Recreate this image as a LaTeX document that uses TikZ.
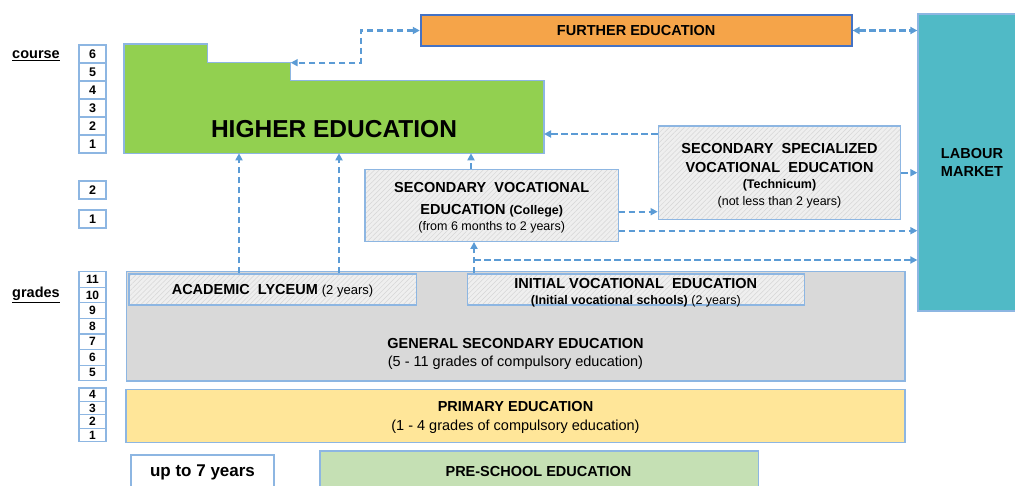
\documentclass[tikz,border=0pt]{standalone}
\usepackage{fontspec}
\setmainfont{Liberation Sans}
\usetikzlibrary{arrows.meta,patterns.meta}

\definecolor{edge}{HTML}{8DB6E2}
\definecolor{flow}{HTML}{5B9BD5}
\definecolor{higher}{HTML}{92D050}
\definecolor{further}{HTML}{F5A449}
\definecolor{furtheredge}{HTML}{4472C4}
\definecolor{labour}{HTML}{50BAC6}
\definecolor{general}{HTML}{D9D9D9}
\definecolor{primary}{HTML}{FFE699}
\definecolor{preschool}{HTML}{C5E0B4}
\definecolor{hatchbg}{HTML}{EFEFEF}
\definecolor{hatchln}{HTML}{D6D6D6}

% font size with an explicit line distance
\newcommand\fsz[2]{\fontsize{#1}{#2}\selectfont}

\tikzset{
  box/.style={draw=edge, line width=1.3pt, inner sep=0pt, align=center},
  hatched/.style={box, preaction={fill=hatchbg},
    pattern={Lines[angle=45,distance=3.5pt,line width=0.5pt]}, pattern color=hatchln},
  caption/.style={align=center, inner sep=0pt},
  flowline/.style={draw=flow, line width=2.2pt, dash pattern=on 6.5pt off 3.5pt},
  tip/.style={-{Triangle[length=7pt,width=7pt]}},
  twotips/.style={{Triangle[length=7pt,width=7pt]}-{Triangle[length=7pt,width=7pt]}},
  yearbox/.style={draw=edge, line width=1.2pt, minimum width=27pt, inner sep=0pt},
  side/.style={font=\bfseries\fsz{14.5}{17}},
}

\begin{document}
\begin{tikzpicture}[x=1pt,y=-1pt]
\useasboundingbox (0,0) rectangle (1015,485);

% side labels
\node[side] (course) at (36,56) {\underline{course}};
\node[side] (grades) at (36,295) {\underline{grades}};

% course years of higher education
\foreach \n [count=\i from 0] in {6,5,4,3,2,1}
  \node[yearbox, minimum height=18pt, font=\bfseries\fsz{12.5}{14}] (c\n) at (92.5,54+18*\i) {\n};
% college years
\node[yearbox, minimum height=18pt, font=\bfseries\fsz{12.5}{14}] (v2) at (92.5,190) {2};
\node[yearbox, minimum height=18pt, font=\bfseries\fsz{12.5}{14}] (v1) at (92.5,219) {1};
% school grades
\foreach \n [count=\i from 0] in {11,10,9,8,7,6,5}
  \node[yearbox, minimum height=15.57pt, font=\bfseries\fsz{12}{13}] (g\n) at (92.5,279.5+15.57*\i) {\n};
\foreach \n [count=\i from 0] in {4,3,2,1}
  \node[yearbox, minimum height=13.42pt, font=\bfseries\fsz{12}{13}] (g\n) at (92.5,394.7+13.42*\i) {\n};

% higher education (stepped outline)
\draw[draw=edge, line width=1.3pt, fill=higher]
  (124,44) -- (207.7,44) -- (207.7,62.7) -- (290.7,62.7) -- (290.7,80.7)
  -- (544,80.7) -- (544,153.3) -- (124,153.3) -- cycle;
\node[font=\bfseries\fsz{24.5}{28}] (he) at (334,129) {HIGHER EDUCATION};
\coordinate (hestep) at (290.7,62.7);
\coordinate (heeast) at (544,134);
\coordinate (hein1) at (239,153.3);
\coordinate (hein2) at (339,153.3);
\coordinate (hein3) at (471,153.3);

% further education and labour market
\node[draw=furtheredge, line width=1.8pt, fill=further, minimum width=431pt, minimum height=31pt,
      font=\bfseries\fsz{14.5}{17}] (fe) at (636.2,30.5) {FURTHER EDUCATION};
\node[box, fill=labour, minimum width=108pt, minimum height=297pt,
      font=\bfseries\fsz{14.5}{18.3}] (lm) at (972,162.5) {LABOUR\\MARKET};

% vocational tracks
\node[hatched, minimum width=253.3pt, minimum height=72.4pt] (sve) at (491.7,205.5) {};
\node[caption, font=\fsz{14.5}{17}] (svetext) at (491.7,208)
  {\bfseries SECONDARY\ \ VOCATIONAL\\[4.3pt]
   \bfseries EDUCATION\ {\fsz{12.5}{17}(College)}\\[-0.3pt]
   \fsz{12.5}{17}(from 6 months to 2 years)};
\node[hatched, minimum width=242.4pt, minimum height=93.3pt] (ssve) at (779.5,172.7) {};
\node[caption, font=\fsz{14.5}{17}] (ssvetext) at (779.5,175.7)
  {\bfseries SECONDARY\ \ SPECIALIZED\\[2pt]
   \bfseries VOCATIONAL\ \ EDUCATION\\[-1pt]
   \bfseries\fsz{12.5}{17}(Technicum)\\[0pt]
   \fsz{12.5}{17}(not less than 2 years)};

% school levels
\node[box, fill=general, minimum width=778.3pt, minimum height=109.3pt] (gs) at (515.85,326.35) {};
\node[caption, font=\fsz{14.5}{18}] (gstext) at (515.5,354)
  {\bfseries GENERAL SECONDARY EDUCATION\\
   (5 - 11 grades of compulsory education)};
\node[hatched, minimum width=287.7pt, minimum height=31pt] (ly) at (272.9,289.5) {};
\node[caption, font=\bfseries\fsz{14.5}{17}] (lytext) at (272.5,291)
  {ACADEMIC\ \ LYCEUM {\mdseries\fsz{13}{17}(2 years)}};
\node[hatched, minimum width=337pt, minimum height=31pt] (iv) at (635.8,289.5) {};
\node[caption, font=\fsz{14.5}{16.7}] (ivtext) at (635.8,292.8)
  {\bfseries INITIAL VOCATIONAL\ \ EDUCATION\\
   \bfseries\fsz{12.5}{16.7}(Initial vocational schools) {\mdseries(2 years)}};
\node[box, fill=primary, minimum width=779pt, minimum height=53.4pt] (pe) at (515.5,416) {};
\node[caption, font=\fsz{14.5}{18.5}] (petext) at (515.5,417.3)
  {\bfseries PRIMARY EDUCATION\\
   (1 - 4 grades of compulsory education)};
\node[box, fill=white, minimum width=143pt, minimum height=50pt] (age) at (202.5,480) {};
\node[font=\bfseries\fsz{17}{20}] (agetext) at (202.5,472) {up to 7 years};
\node[box, fill=preschool, minimum width=438.5pt, minimum height=50pt] (ps) at (539.2,476) {};
\node[font=\bfseries\fsz{14.5}{17}] (pstext) at (538.5,472) {PRE-SCHOOL EDUCATION};

% connectors
\coordinate (fecorner) at (360.7,62.7);
\draw[flowline,twotips] (fe.west) -| (fecorner) -- (hestep);
\draw[flowline,twotips] (fe.east) -- (lm.west |- fe.east);
\draw[flowline,tip] (ssve.west |- heeast) -- (heeast);
\draw[flowline,tip] (ssve.east) -- (lm.west |- ssve.east);

\coordinate (svetossve) at (640,211.7);
\coordinate (svetolm) at (640,230.7);
\draw[flowline,tip] (sve.east |- svetossve) -- (ssve.west |- svetossve);
\draw[flowline,tip] (sve.east |- svetolm) -- (lm.west |- svetolm);
\draw[flowline,tip] (sve.north -| hein3) -- (hein3);

\draw[flowline,tip] (ly.north -| hein1) -- (hein1);
\draw[flowline,tip] (ly.north -| hein2) -- (hein2);

\coordinate (ivfork) at (474,260);
\draw[flowline,tip] (iv.north -| ivfork) -- (sve.south -| ivfork);
\draw[flowline,tip] (ivfork) -- (lm.west |- ivfork);
\end{tikzpicture}
\end{document}
